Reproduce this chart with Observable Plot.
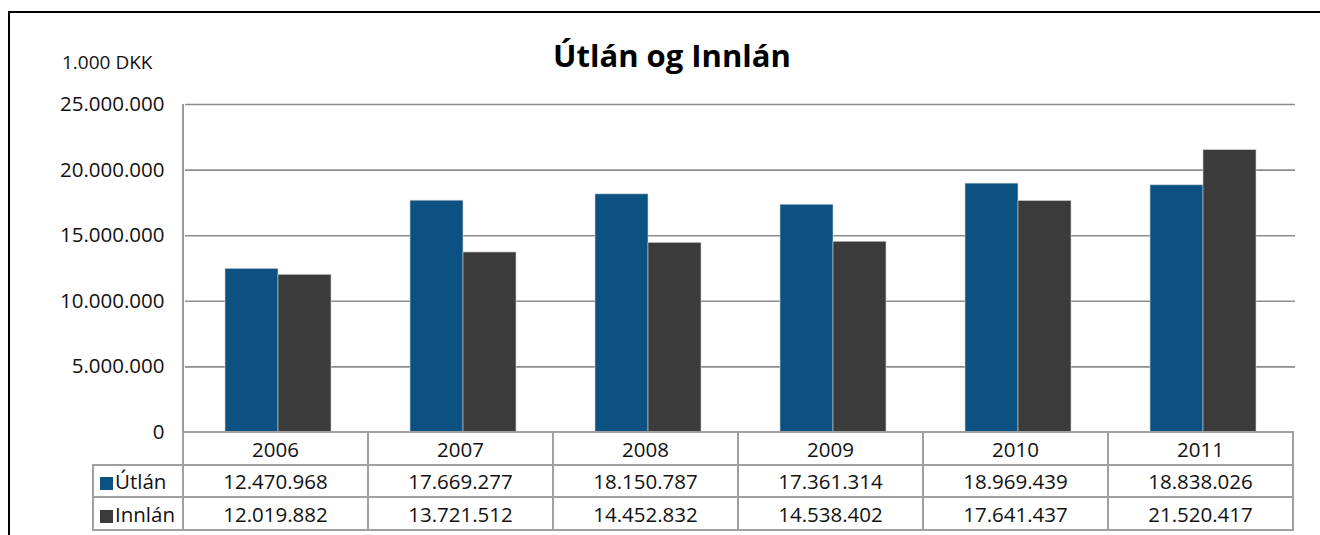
<!DOCTYPE html>
<html>
<head>
<meta charset="utf-8">
<script src="https://cdn.jsdelivr.net/npm/d3@7"></script>
<script src="https://cdn.jsdelivr.net/npm/@observablehq/plot@0.6"></script>
<style>
  html, body { margin: 0; padding: 0; background: #fff; }
  body { font-family: "Open Sans", sans-serif; color: #111; }
  #wrap { position: relative; width: 1320px; height: 535px; overflow: hidden; }
  #frame { position: absolute; left: 8px; top: 11px; width: 1400px; height: 600px;
           border-left: 2.5px solid #000; border-top: 2.5px solid #000; }
  #title { position: absolute; left: 0px; width: 1344px; top: 34px; text-align: center;
           font-size: 31px; font-weight: 700; color: #000; }
  #unit { position: absolute; left: 62px; top: 49px; font-size: 19px; color: #111; }
  #chart { position: absolute; left: 0; top: 0; }
  #axisline { position: absolute; width: 0; border-left: 2px solid #999; }
  table.dt { position: absolute; border-collapse: collapse; table-layout: fixed; font-size: 20.5px; }
  table.dt td { border: 2px solid #a0a0a0; text-align: center; padding: 0; white-space: nowrap; color: #111; }
  table.dt td.corner { border: none; }
  table.dt td.leg { text-align: left; padding-left: 6px; }
  .sw { display: inline-block; width: 13px; height: 13px; margin-right: 2px; vertical-align: -1px; }
</style>
</head>
<body>
<div id="wrap">
  <div id="frame"></div>
  <div id="title">Útlán og Innlán</div>
  <div id="unit">1.000 DKK</div>
  <div id="chart"></div>
  <div id="axisline"></div>
</div>
<script>
const years = ["2006", "2007", "2008", "2009", "2010", "2011"];
const series = ["Útlán", "Innlán"];
const utlan = [12470968, 17669277, 18150787, 17361314, 18969439, 18838026];
const innlan = [12019882, 13721512, 14452832, 14538402, 17641437, 21520417];
const yTicks = [0, 5000000, 10000000, 15000000, 20000000, 25000000];
const colors = ["#0B5282", "#3B3B3B"];

const fmt = d3.formatLocale({decimal: ",", thousands: ".", grouping: [3], currency: ["", ""]}).format(",d");

const data = [];
years.forEach((y, i) => {
  data.push({year: y, series: series[0], value: utlan[i]});
  data.push({year: y, series: series[1], value: innlan[i]});
});

const W = 1320, H = 535, mT = 104, mB = 103, mL = 183, mR = 24;

const plot = Plot.plot({
  width: W, height: H,
  marginTop: mT, marginBottom: mB, marginLeft: mL, marginRight: mR,
  style: {fontFamily: "Open Sans, sans-serif", fontSize: "20.5px", color: "#111", background: "transparent"},
  fx: {domain: years, padding: 0, axis: null, label: null},
  x: {domain: series, axis: null, paddingInner: 0, paddingOuter: 0.74},
  y: {domain: [0, 25000000], ticks: yTicks, tickFormat: fmt, tickSize: 0, tickPadding: 21, label: null},
  color: {domain: series, range: colors},
  marks: [
    Plot.ruleY(yTicks.slice(1), {stroke: "#8c8c8c", strokeWidth: 1.6}),
    Plot.barY(data, {fx: "year", x: "series", y: "value", fill: "series", stroke: "#cfcfcf", strokeWidth: 0.6})
  ]
});
document.getElementById("chart").appendChild(plot);

// data table under the chart, aligned with the fx scale
const fx = plot.scale("fx");
const step = fx && fx.step ? fx.step : (W - mL - mR) / years.length;
const x0 = mL;
const yBase = H - mB;
const legW = 90;

const al = document.getElementById("axisline");
al.style.left = (x0 - 1) + "px";
al.style.top = mT + "px";
al.style.height = (yBase - mT) + "px";

const t = document.createElement("table");
t.className = "dt";
t.style.left = (x0 - legW - 1) + "px";
t.style.top = (yBase - 1) + "px";
t.style.width = (legW + step * years.length) + "px";
const cg = document.createElement("colgroup");
const c0 = document.createElement("col"); c0.style.width = legW + "px"; cg.appendChild(c0);
years.forEach(() => { const c = document.createElement("col"); c.style.width = step + "px"; cg.appendChild(c); });
t.appendChild(cg);

const r0 = t.insertRow();
r0.style.height = "33px";
const corner = r0.insertCell(); corner.className = "corner";
years.forEach(y => { r0.insertCell().textContent = y; });

[utlan, innlan].forEach((vals, si) => {
  const r = t.insertRow();
  r.style.height = si === 0 ? "32px" : "33px";
  const lc = r.insertCell(); lc.className = "leg";
  const sw = document.createElement("span"); sw.className = "sw"; sw.style.background = colors[si];
  lc.appendChild(sw);
  lc.appendChild(document.createTextNode(series[si]));
  vals.forEach(v => { r.insertCell().textContent = fmt(v); });
});
document.getElementById("wrap").appendChild(t);
</script>
</body>
</html>
